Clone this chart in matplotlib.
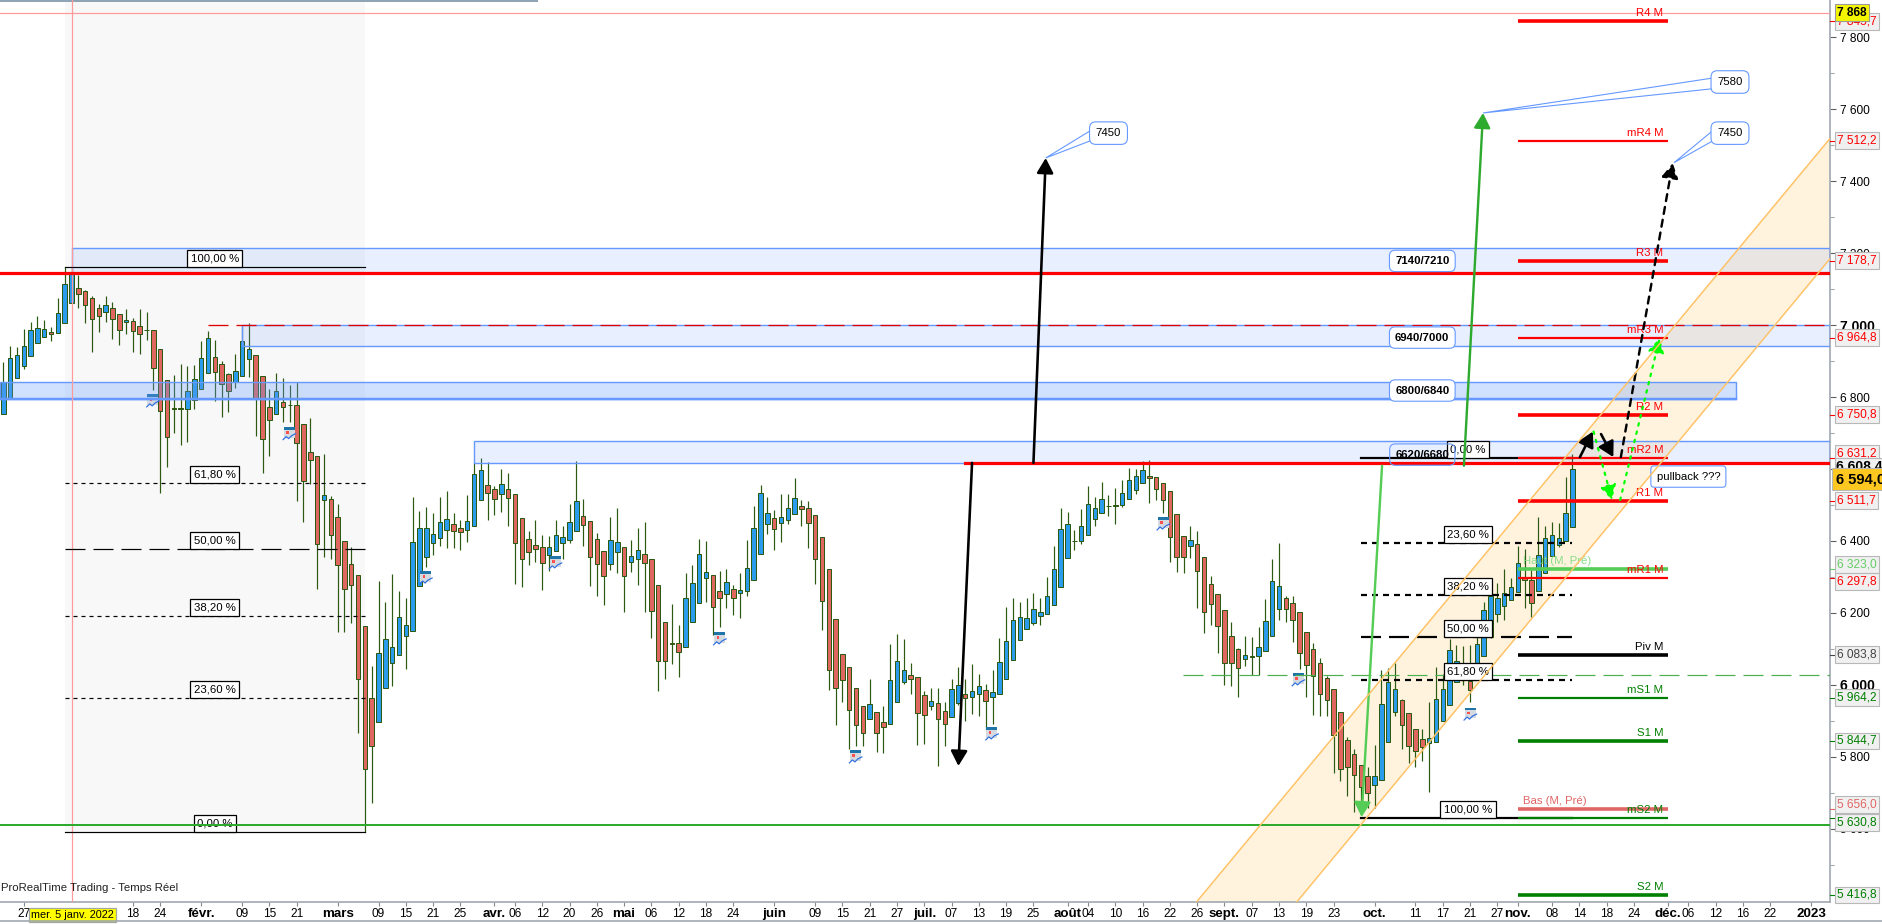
import matplotlib
matplotlib.use('Agg')
import matplotlib.pyplot as plt
from matplotlib.lines import Line2D
from matplotlib.patches import Polygon, Rectangle

plt.rcParams['font.family'] = ['Liberation Sans', 'DejaVu Sans']
plt.rcParams['lines.scale_dashes'] = False

# daily candles, one value per session
opens = [6752, 6796, 6852, 6885, 6913, 6949, 6968, 6980, 6977, 7005, 7060, 7102, 7094, 7074, 7046, 7035, 7046, 7030, 7007, 7010,
         6996, 6986, 6985, 6932, 6846, 6768, 6768, 6766, 6791, 6821, 6866, 6912, 6893, 6863, 6841, 6857, 6905, 6918, 6857, 6771,
         6752, 6785, 6777, 6777, 6724, 6646, 6635, 6513, 6518, 6468, 6399, 6335, 6305, 6163, 5963, 5896, 5993, 6060, 6082, 6135,
         6149, 6274, 6355, 6394, 6407, 6430, 6446, 6435, 6430, 6441, 6513, 6555, 6544, 6530, 6544, 6530, 6463, 6405, 6388, 6382,
         6360, 6371, 6394, 6402, 6427, 6469, 6455, 6405, 6371, 6335, 6369, 6382, 6341, 6349, 6363, 6349, 6277, 6174, 6118, 6116,
         6105, 6174, 6227, 6296, 6305, 6260, 6252, 6268, 6255, 6260, 6291, 6363, 6446, 6463, 6449, 6457, 6474, 6496, 6493, 6471,
         6410, 6321, 6182, 6085, 6049, 5991, 5941, 5905, 5924, 5896, 5891, 5952, 6007, 6027, 6021, 5971, 5943, 5949, 5927, 5910,
         5949, 5974, 5968, 5974, 5985, 5968, 5974, 6018, 6069, 6124, 6155, 6171, 6191, 6196, 6221, 6271, 6352, 6399, 6399, 6418,
         6460, 6477, 6496, 6498, 6499, 6516, 6543, 6560, 6580, 6577, 6560, 6538, 6474, 6413, 6385, 6393, 6355, 6280, 6252, 6207,
         6135, 6099, 6071, 6078, 6080, 6094, 6135, 6210, 6243, 6227, 6202, 6146, 6099, 6060, 6019, 5988, 5924, 5846, 5807, 5777,
         5746, 5721, 5735, 5841, 5924, 5957, 5921, 5879, 5849, 5838, 5843, 5901, 5945, 6009, 6030, 6010, 6060, 6080, 6134, 6197,
         6220, 6237, 6257, 6300, 6293, 6260, 6310, 6357, 6388, 6399, 6438]
highs = [6898, 6942, 6938, 6989, 7008, 7025, 7014, 6995, 7076, 7161, 7161, 7139, 7097, 7081, 7058, 7081, 7064, 7030, 7044, 7019,
         7044, 7036, 6985, 6932, 6846, 6861, 6892, 6886, 6889, 6955, 6983, 6958, 6899, 6868, 6919, 6997, 7005, 6918, 6857, 6821,
         6866, 6852, 6833, 6843, 6724, 6743, 6635, 6643, 6525, 6502, 6399, 6382, 6305, 6163, 6054, 6289, 6230, 6307, 6261, 6241,
         6522, 6483, 6494, 6477, 6522, 6539, 6478, 6457, 6528, 6619, 6630, 6619, 6552, 6600, 6589, 6530, 6463, 6427, 6458, 6416,
         6413, 6458, 6441, 6503, 6621, 6516, 6455, 6421, 6371, 6467, 6491, 6382, 6403, 6435, 6453, 6349, 6277, 6174, 6224, 6166,
         6310, 6332, 6405, 6400, 6305, 6317, 6322, 6277, 6311, 6403, 6497, 6555, 6522, 6485, 6531, 6531, 6574, 6514, 6510, 6471,
         6410, 6321, 6182, 6085, 6049, 5991, 5941, 6016, 5924, 5941, 6113, 6143, 6127, 6060, 6021, 5982, 5991, 5991, 5952, 6018,
         6049, 6018, 6057, 6030, 6002, 6041, 6130, 6218, 6241, 6230, 6243, 6255, 6241, 6300, 6385, 6491, 6480, 6431, 6488, 6553,
         6521, 6563, 6527, 6546, 6569, 6602, 6599, 6622, 6625, 6577, 6560, 6538, 6474, 6413, 6443, 6428, 6355, 6302, 6252, 6207,
         6174, 6102, 6135, 6132, 6160, 6238, 6350, 6394, 6247, 6247, 6202, 6146, 6116, 6074, 6025, 5988, 5924, 5855, 5821, 5777,
         5771, 5832, 6043, 6046, 6060, 5961, 5921, 5879, 5877, 5953, 6049, 6030, 6129, 6111, 6108, 6111, 6132, 6230, 6260, 6282,
         6321, 6296, 6386, 6378, 6320, 6466, 6443, 6452, 6449, 6579, 6642]
lows = [6752, 6796, 6852, 6878, 6913, 6949, 6968, 6956, 6977, 7005, 7060, 7048, 7005, 6926, 6981, 7008, 6962, 6945, 6976, 6926,
        6920, 6958, 6819, 6532, 6606, 6700, 6667, 6675, 6766, 6821, 6866, 6790, 6745, 6759, 6824, 6857, 6856, 6693, 6588, 6637,
        6752, 6731, 6731, 6512, 6454, 6557, 6268, 6356, 6351, 6148, 6148, 6173, 5866, 5592, 5671, 5896, 5993, 5998, 6082, 6044,
        6149, 6274, 6328, 6361, 6386, 6381, 6381, 6375, 6397, 6441, 6513, 6458, 6473, 6481, 6442, 6281, 6272, 6333, 6342, 6264,
        6317, 6371, 6350, 6394, 6427, 6386, 6275, 6247, 6222, 6319, 6311, 6203, 6314, 6278, 6203, 6130, 5984, 6018, 6059, 6023,
        6105, 6174, 6227, 6231, 6139, 6160, 6214, 6194, 6186, 6247, 6291, 6363, 6419, 6375, 6397, 6447, 6474, 6442, 6380, 6280,
        6153, 5986, 5889, 5953, 5822, 5830, 5830, 5905, 5814, 5811, 5891, 5952, 6003, 5975, 5833, 5836, 5930, 5776, 5830, 5910,
        5944, 5901, 5920, 5915, 5875, 5893, 5974, 6018, 6069, 6124, 6155, 6168, 6168, 6196, 6221, 6271, 6352, 6375, 6392, 6418,
        6442, 6477, 6470, 6448, 6495, 6516, 6530, 6560, 6506, 6514, 6479, 6343, 6315, 6312, 6354, 6215, 6145, 6166, 6090, 6001,
        5998, 5968, 6053, 6027, 6027, 6094, 6135, 6181, 6176, 6120, 6044, 5968, 5917, 5914, 5914, 5755, 5734, 5693, 5648, 5648,
        5657, 5657, 5735, 5841, 5915, 5822, 5784, 5771, 5790, 5704, 5843, 5901, 5945, 6009, 6000, 5953, 6060, 6080, 6130, 6176,
        6180, 6237, 6257, 6213, 6190, 6260, 6310, 6357, 6382, 6399, 6438]
closes = [6843, 6907, 6918, 6941, 6985, 6991, 6988, 6974, 7032, 7113, 7143, 7085, 7055, 7016, 7024, 7055, 7016, 6985, 7013, 6982,
          6974, 6985, 6880, 6760, 6688, 6768, 6768, 6816, 6851, 6907, 6963, 6870, 6835, 6818, 6871, 6955, 6932, 6796, 6682, 6735,
          6818, 6771, 6777, 6671, 6566, 6624, 6391, 6527, 6418, 6332, 6268, 6277, 6018, 5766, 5830, 6088, 6127, 6105, 6188, 6166,
          6396, 6435, 6435, 6419, 6452, 6460, 6427, 6424, 6455, 6585, 6596, 6532, 6516, 6557, 6519, 6394, 6349, 6369, 6377, 6338,
          6382, 6416, 6410, 6452, 6510, 6444, 6355, 6335, 6302, 6402, 6396, 6302, 6357, 6374, 6338, 6205, 6068, 6066, 6113, 6091,
          6243, 6282, 6363, 6313, 6218, 6243, 6285, 6243, 6263, 6324, 6435, 6532, 6477, 6432, 6466, 6491, 6519, 6488, 6449, 6349,
          6232, 6043, 5991, 6013, 5930, 5888, 5868, 5946, 5868, 5882, 6013, 6066, 6043, 6016, 5921, 5916, 5955, 5905, 5891, 5988,
          5999, 5963, 5982, 5996, 5955, 5980, 6063, 6121, 6180, 6188, 6185, 6210, 6202, 6246, 6321, 6432, 6446, 6399, 6441, 6502,
          6493, 6516, 6496, 6498, 6532, 6569, 6580, 6596, 6574, 6544, 6513, 6410, 6355, 6355, 6402, 6316, 6202, 6224, 6163, 6060,
          6060, 6046, 6082, 6078, 6105, 6177, 6288, 6274, 6210, 6180, 6088, 6055, 6024, 5974, 5957, 5860, 5766, 5771, 5749, 5716,
          5699, 5746, 5946, 6007, 5988, 5888, 5830, 5816, 5827, 5852, 5960, 5988, 6096, 6067, 6060, 5985, 6113, 6207, 6247, 6243,
          6256, 6273, 6338, 6291, 6227, 6360, 6407, 6416, 6407, 6477, 6600]

# x axis labels: (session index, text)
date_pos = [3, 19, 23, 29, 35, 39, 43, 49, 55, 59, 63, 67, 72, 75, 79, 83, 87, 91, 95, 99, 103, 107, 113, 119, 123, 127, 131,
            135, 139, 143, 147, 151, 156, 159, 163, 167, 171, 175, 179, 183, 187, 191, 195, 201, 207, 211, 215, 219, 222,
            227, 231, 235, 239, 244, 247, 251, 255, 259, 265]
date_txt = ['27', '18', '24', 'févr.', '09', '15', '21', 'mars', '09', '15', '21', '25', 'avr.', '06', '12', '20', '26', 'mai',
            '06', '12', '18', '24', 'juin', '09', '15', '21', '27', 'juil.', '07', '13', '19', '25', 'août', '04', '10', '16',
            '22', '26', 'sept.', '07', '13', '19', '23', 'oct.', '11', '17', '21', '27', 'nov.', '08', '14', '18', '24', 'déc.',
            '06', '12', '16', '22', '2023']
bold_dates = ['févr.', 'mars', 'avr.', 'mai', 'juin', 'juil.', 'août', 'sept.', 'oct.', 'nov.', 'déc.', '2023']

price_ticks = [7800, 7600, 7400, 7200, 7000, 6800, 6600, 6400, 6200, 6000, 5800, 5600]
price_minor = [7700, 7500, 7300, 7100, 6900, 6700, 6500, 6300, 6100, 5900, 5700, 5500]

# monthly pivots
pivot_names = ['R4 M', 'mR4 M', 'R3 M', 'mR3 M', 'R2 M', 'mR2 M', 'R1 M', 'mR1 M', 'Piv M', 'mS1 M', 'S1 M', 'mS2 M', 'S2 M']
pivot_vals = [7845.7, 7512.2, 7178.7, 6964.8, 6750.8, 6631.2, 6511.7, 6297.8, 6083.8, 5964.2, 5844.7, 5630.8, 5416.8]
pivot_cols = ['#ff0000'] * 8 + ['#000000'] + ['#008000'] * 4
pivot_thick = [True, False, True, False, True, False, True, False, True, False, True, False, True]

# boxed values on the price scale: value, text, text colour, position of the box
scale_vals = [7845.7, 7512.2, 7178.7, 6964.8, 6750.8, 6631.2, 6511.7, 6323.0, 6297.8, 6083.8, 5964.2, 5844.7, 5656.0, 5630.8, 5416.8]
scale_txt = ['7 845,7', '7 512,2', '7 178,7', '6 964,8', '6 750,8', '6 631,2', '6 511,7', '6 323,0', '6 297,8', '6 083,8',
             '5 964,2', '5 844,7', '5 656,0', '5 630,8', '5 416,8']
scale_cols = ['#ff0000'] * 7 + ['#66cc66', '#ff0000', '#444444', '#008000', '#008000', '#e06666', '#008000', '#008000']
scale_pos = [7842, 7512.2, 7178.7, 6964.8, 6750.8, 6642, 6511.7, 6334, 6287, 6083.8, 5964.2, 5844.7, 5667, 5618, 5416.8]

# fibonacci retracements
fib_names = ['100,00 %', '61,80 %', '50,00 %', '38,20 %', '23,60 %', '0,00 %']
fib1_vals = [7161, 6560, 6377, 6191, 5963, 5592]
fib2_names = ['0,00 %', '23,60 %', '38,20 %', '50,00 %', '61,80 %', '100,00 %']
fib2_vals = [6631, 6395, 6249, 6133, 6014, 5631]

# support / resistance zones: low, high, start, end
zone_low = [7144, 6941, 6794, 6617]
zone_high = [7213, 7000, 6841, 6678]
zone_start = [10.1, 35, -0.5, 69]
zone_end = [267.8, 267.8, 254, 267.8]
zone_alpha = [0.15, 0.15, 0.3, 0.15]
zone_txt = ['7140/7210', '6940/7000', '6800/6840', '6620/6680']
zone_txt_y = [7178, 6965, 6818, 6640]

# ascending channel
chan_up_x = [174.9, 267.8]
chan_up_y = [5397.2, 7519]
chan_lo_x = [189.6, 267.8]
chan_lo_y = [5397.2, 7185]

# hand drawn arrows: x0, y0, x1, y1
black_arrows = [(142.0, 6617, 140.0, 5775), (151.0, 6617, 152.8, 7464), (231.1, 6633, 233.0, 6704), (234.2, 6697, 236.0, 6633)]
green_arrows = [(202.1, 6609, 199.1, 5633), (214.1, 6609, 216.9, 7589)]
dash_arrow = (237.1, 6633, 244.7, 7450)
dotted_arrows = [(233.1, 6704, 235.8, 6514), (237.0, 6514, 242.8, 6964)]

# callouts: text, centre, tip
call_txt = ['7450', '7580', '7450']
call_x = [162, 253.1, 253.1]
call_y = [7533, 7675, 7533]
call_tip_x = [152.8, 216.9, 244.9]
call_tip_y = [7464, 7589, 7451]

# economic calendar icons
icon_x = [21.9, 41.9, 61.9, 80.9, 105, 124.9, 144.9, 170, 189.8, 215]
icon_y = [6792, 6701, 6300, 6342, 6131, 5803, 5867, 6450, 6017, 5922]

X0, X1 = -0.484, 267.76
Y0, Y1 = 5397.2, 7902.8
FS = 8.2
BLUE_EDGE = '#6699ff'
PX = 0.72  # one pixel in points at dpi 100


def dash(on, off):
    return (0, (on * PX, off * PX))


fig = plt.figure(figsize=(18.82, 9.24), dpi=100)
ax = fig.add_axes([0, 22 / 924, 1830 / 1882, 902 / 924])
ax.set_xlim(X0, X1)
ax.set_ylim(Y0, Y1)

# backgrounds
ax.add_patch(Rectangle((9, fib1_vals[-1]), 44, Y1 - fib1_vals[-1], fc='#f8f8f8', ec='none', zorder=0))
ax.plot([X0, 78.1], [Y1, Y1], color='#8fa5b5', lw=2 * PX * 1.5, clip_on=False, zorder=1)
ax.fill([chan_up_x[0], chan_up_x[1], chan_lo_x[1], chan_lo_x[0]],
        [chan_up_y[0], chan_up_y[1], chan_lo_y[1], chan_lo_y[0]], color='#ffa500', alpha=0.13, lw=0, zorder=1)
ax.plot(chan_up_x, chan_up_y, color='#ffc266', lw=1.5 * PX, zorder=6)
ax.plot(chan_lo_x, chan_lo_y, color='#ffc266', lw=1.5 * PX, zorder=6)

# candles
idx = list(range(len(opens)))
ax.vlines(idx, lows, highs, color='#2d5a12', lw=1.2 * PX, zorder=2)
for i, o, c in zip(idx, opens, closes):
    col = '#2b9bec' if c > o else '#e0675f'
    h = max(abs(c - o), 2)
    ax.add_patch(Rectangle((i - 0.33, min(o, c)), 0.66, h, fc=col, ec='#2d5a12', lw=1.0 * PX, zorder=2.2))

# calendar icons
for x, y in zip(icon_x, icon_y):
    dx, dy = 1 / 6.822, 1 / 0.36
    ax.add_patch(Rectangle((x - 5.5 * dx, y - 5 * dy), 11 * dx, 10 * dy, fc='#d4dae0', ec='none', zorder=2.6))
    ax.add_patch(Rectangle((x - 5.5 * dx, y + 3 * dy), 11 * dx, 2.5 * dy, fc='#1f74a8', ec='none', zorder=2.7))
    ax.add_patch(Rectangle((x - 3 * dx, y - 1 * dy), 2.5 * dx, 2.5 * dy, fc='#ff5050', ec='none', zorder=2.7))
    ax.plot([x - 6 * dx, x - 3 * dx, x - 0.5 * dx, x + 2.5 * dx, x + 6.5 * dx],
            [y - 7 * dy, y - 4 * dy, y - 6 * dy, y - 3 * dy, y - 1 * dy],
            color='#2f6fe0', lw=1.2 * PX, zorder=2.8)

# zones
for lo, hi, a, b, al in zip(zone_low, zone_high, zone_start, zone_end, zone_alpha):
    ax.add_patch(Rectangle((a, lo), b - a, hi - lo, fc='#6699ff', alpha=al, ec='none', zorder=3))
    ax.add_patch(Rectangle((a, lo), b - a, hi - lo, fc='none', ec=BLUE_EDGE, lw=1.4 * PX, zorder=3.1))
ax.plot([zone_start[2], zone_end[2]], [zone_low[2], zone_low[2]], color=BLUE_EDGE, lw=2.5 * PX, zorder=3.1)

# long horizontal levels
ax.axhline(7868, color='#ff9a9a', lw=1.2 * PX, zorder=3.2)
ax.axvline(10.1, color='#ff9a9a', lw=1.2 * PX, zorder=3.2)
ax.plot([30, X1], [7000, 7000], color='#e00000', lw=1.3 * PX, ls=dash(20, 8), zorder=3.4)
ax.axhline(7144, color='#ff0000', lw=3.2 * PX, zorder=4)
ax.plot([141, X1], [6616, 6616], color='#ff0000', lw=3.2 * PX, zorder=4)
ax.axhline(5611, color='#2eaa2e', lw=2 * PX, zorder=4.4)
ax.plot([172.9, X1], [6028, 6028], color='#4caf50', lw=1.2 * PX, ls=dash(20, 8), zorder=3.4)

# fibonacci 1
for val, name in zip(fib1_vals, fib_names):
    if name in ('100,00 %', '0,00 %'):
        ls = '-'
    elif name == '50,00 %':
        ls = dash(20, 8)
    else:
        ls = dash(4, 4)
    ax.plot([9, 53], [val, val], color='black', lw=1.2 * PX, ls=ls, zorder=4.2)
    ax.annotate(name, (31, val), xytext=(0, 2.6), textcoords='offset points', ha='center', va='bottom', fontsize=FS,
                bbox=dict(boxstyle='square,pad=0.3', fc='white', ec='black', lw=0.9), zorder=4.3)

# fibonacci 2
for val, name in zip(fib2_vals, fib2_names):
    if name in ('100,00 %', '0,00 %'):
        ls = '-'
    elif name == '50,00 %':
        ls = dash(20, 8)
    else:
        ls = dash(6, 5)
    ax.plot([199, 230], [val, val], color='black', lw=2.2 * PX, ls=ls, zorder=4.2)
    ax.annotate(name, (214.7, val), xytext=(0, 2.6), textcoords='offset points', ha='center', va='bottom', fontsize=FS,
                bbox=dict(boxstyle='square,pad=0.3', fc='white', ec='black', lw=0.9), zorder=4.3)

# pivots
for name, val, col, thick in zip(pivot_names, pivot_vals, pivot_cols, pivot_thick):
    ax.plot([222, 244], [val, val], color=col, lw=(3.6 if thick else 2.2) * PX, zorder=4.5, solid_capstyle='butt')
    ax.annotate(name, (243.3, val), xytext=(0, 2), textcoords='offset points', ha='right', va='bottom', fontsize=FS,
                color=col, zorder=4.6)
ax.plot([222, 244], [6323, 6323], color='#55cc55', lw=3.6 * PX, zorder=4.5, solid_capstyle='butt')
ax.annotate('Haut (M, Pré)', (222.7, 6323), xytext=(0, 2), textcoords='offset points', va='bottom', fontsize=FS,
            color='#88dd88', zorder=4.6)
ax.plot([222, 244], [5656, 5656], color='#e06666', lw=3.6 * PX, zorder=4.5, solid_capstyle='butt')
ax.annotate('Bas (M, Pré)', (222.7, 5656), xytext=(0, 2), textcoords='offset points', va='bottom', fontsize=FS,
            color='#e06666', zorder=4.6)


# arrows
def arrow(a, col, lw, ls='-', ms=10):
    ax.annotate('', xy=(a[2], a[3]), xytext=(a[0], a[1]), zorder=5,
                arrowprops=dict(arrowstyle='-|>,head_length=0.9,head_width=0.5', color=col, lw=lw * PX, ls=ls,
                                shrinkA=0, shrinkB=0, mutation_scale=ms))


for a in black_arrows:
    arrow(a, 'black', 2.6)
arrow(green_arrows[0], '#55cc55', 2.4)
arrow(green_arrows[1], '#2eaa2e', 2.4)
arrow(dash_arrow, 'black', 2.4, ls=dash(7, 6))
for a in dotted_arrows:
    arrow(a, '#00ff00', 2.2, ls=dash(2.5, 6))

# zone labels
for txt, y in zip(zone_txt, zone_txt_y):
    fc = 'none' if txt == '6620/6680' else 'white'
    ax.text(208, y, txt, ha='center', va='center', fontsize=FS, fontweight='bold', zorder=5.2,
            bbox=dict(boxstyle='round,pad=0.5', fc=fc, ec=BLUE_EDGE, lw=0.8))

# callouts
for txt, x, y, tx, ty in zip(call_txt, call_x, call_y, call_tip_x, call_tip_y):
    ax.add_patch(Polygon([(tx, ty), (x - 2.2, y + 12), (x - 2.2, y - 18)], closed=True, fc='white', ec=BLUE_EDGE,
                         lw=0.8, zorder=5.3))
    ax.text(x, y, txt, ha='center', va='center', fontsize=FS, zorder=5.4,
            bbox=dict(boxstyle='round,pad=0.55', fc='white', ec=BLUE_EDGE, lw=0.8))
ax.text(247, 6579, 'pullback ???', ha='center', va='center', fontsize=FS, zorder=5.4,
        bbox=dict(boxstyle='round,pad=0.5,rounding_size=0.3', fc='white', ec=BLUE_EDGE, lw=0.8))

ax.text(-0.3, 5437, 'ProRealTime Trading - Temps Réel', fontsize=FS, color='#222222', va='center', zorder=6)

# axes
for side in ('top', 'left'):
    ax.spines[side].set_visible(False)
for side in ('right', 'bottom'):
    ax.spines[side].set_color('#a0a8b0')
    ax.spines[side].set_linewidth(1.2)
ax.yaxis.tick_right()
ax.set_yticks(price_ticks)
ax.set_yticklabels([f'{p // 1000} {p % 1000:03d}' for p in price_ticks])
ax.set_yticks(price_minor, minor=True)
ax.tick_params(axis='y', which='major', length=4, width=0.8, color='#606060', pad=3, labelsize=8.6)
ax.tick_params(axis='y', which='minor', length=3, width=0.8, color='#a0a8b0')
for lab, p in zip(ax.get_yticklabels(), price_ticks):
    if p in (7000, 6000):
        lab.set_fontweight('bold')
        lab.set_fontsize(10)
ax.set_xticks(date_pos)
ax.set_xticklabels(date_txt)
ax.tick_params(axis='x', length=3, width=0.8, color='#808890', pad=1.5, labelsize=8.6)
for lab, txt in zip(ax.get_xticklabels(), date_txt):
    if txt in bold_dates:
        lab.set_fontweight('bold')
        lab.set_fontsize(9.6)

# boxed values on the scale
ytr = ax.get_yaxis_transform()
for val, txt, col, pos in zip(scale_vals, scale_txt, scale_cols, scale_pos):
    ax.plot([1, 1.004], [val, val], transform=ytr, color=col, lw=0.8, clip_on=False, zorder=7)
    ax.text(1.0038, pos, txt, transform=ytr, color=col, fontsize=8.6, va='center', ha='left', clip_on=False, zorder=7.2,
            bbox=dict(boxstyle='square,pad=0.2', fc='#f0f0f0', ec='#b8b8b8', lw=0.8))
ax.text(1.0038, 7868, '7 868', transform=ytr, fontsize=8.6, fontweight='bold', va='center', ha='left', clip_on=False,
        zorder=7.4, bbox=dict(boxstyle='square,pad=0.2', fc='#f5f500', ec='#9a9a9a', lw=0.8))
ax.text(1.0035, 6608, '6 608,4', transform=ytr, fontsize=10, fontweight='bold', va='center', ha='left', clip_on=False,
        zorder=7.4, bbox=dict(boxstyle='square,pad=0.1', fc='#f0f0f0', ec='#b8b8b8', lw=0.8))
ax.text(1.0035, 6572, '6 594,0', transform=ytr, fontsize=10.5, fontweight='bold', va='center', ha='left', clip_on=False,
        zorder=7.6, bbox=dict(boxstyle='square,pad=0.3', fc='#ffc820', ec='#b8b8b8', lw=0.8))

# highlighted date under the cross-hair
ax.text(10.1, -0.0141, 'mer. 5 janv. 2022', transform=ax.get_xaxis_transform(), fontsize=7.8, ha='center', va='center',
        clip_on=False, zorder=8, bbox=dict(boxstyle='square,pad=0.2', fc='#ffff00', ec='#a0a8a0', lw=0.9))

fig.add_artist(Line2D([0, 1], [3 / 924, 3 / 924], color='#a0a8b0', lw=1.2))

fig.savefig('out.png', dpi=100)
